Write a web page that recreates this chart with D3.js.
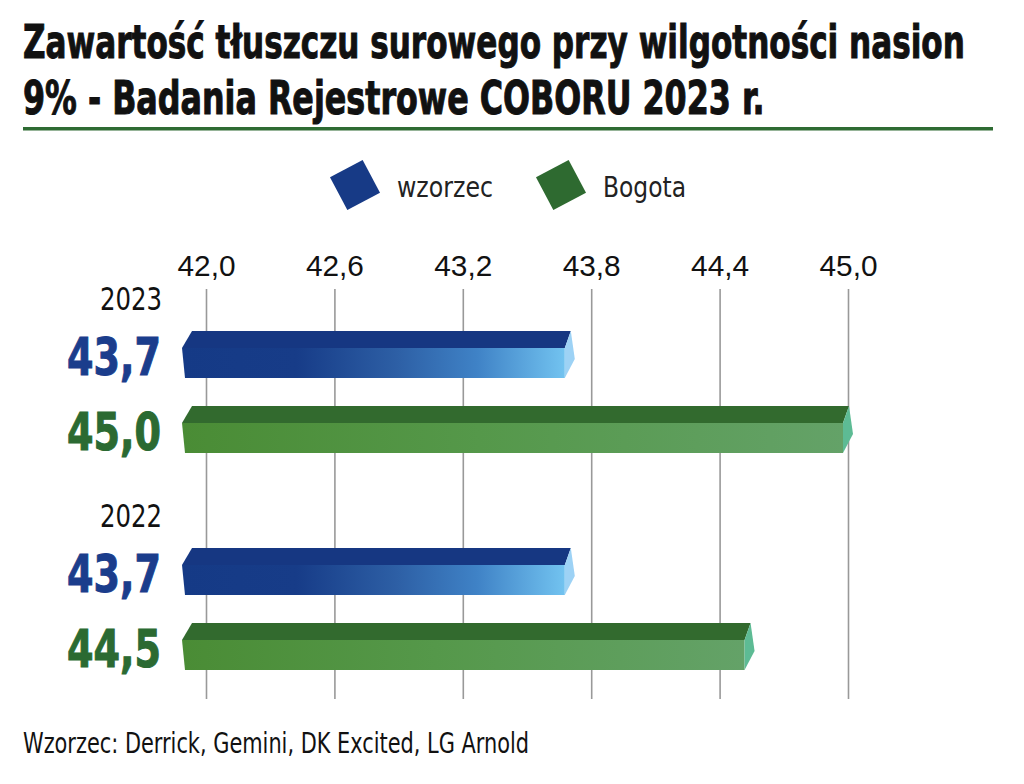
<!DOCTYPE html>
<html>
<head>
<meta charset="utf-8">
<script src="https://cdn.jsdelivr.net/npm/d3@7"></script>
<style>
  body { margin: 0; background: #fff; }
  .narrow { font-family: "Liberation Sans Narrow", "DejaVu Sans Condensed", "Roboto", sans-serif; }
</style>
</head>
<body>
<div id="chart"></div>
<script>
const titleLines = [
  'Zawartość tłuszczu surowego przy wilgotności nasion',
  '9% - Badania Rejestrowe COBORU 2023 r.',
];
const years = ['2023', '2022'];
const seriesNames = ['wzorzec', 'Bogota'];
const values2023 = [43.7, 45.0];
const values2022 = [43.7, 44.54];
const tickValues = [42.0, 42.6, 43.2, 43.8, 44.4, 45.0];
const footnote = 'Wzorzec: Derrick, Gemini, DK Excited, LG Arnold';

const colors = {
  wzorzec: { label: '#1b3d8c', top: '#163782', side: '#9dd2f5', legend: '#173a86',
    front: [[0, '#153a86'], [0.3, '#173c88'], [0.56, '#2d5fa5'], [0.77, '#3f82c6'], [1, '#72c3f0']] },
  Bogota: { label: '#2b6a32', top: '#326a2e', side: '#5dbb94', legend: '#2e6a30',
    front: [[0, '#4a8c35'], [0.45, '#55984a'], [1, '#64a268']] },
};

const data = [];
years.forEach((year, i) => {
  const vals = i === 0 ? values2023 : values2022;
  seriesNames.forEach((name, j) => data.push({ year, name, value: vals[j] }));
});

const width = 1024;
const height = 784;

const svg = d3.select('#chart')
  .append('svg')
  .attr('width', width)
  .attr('height', height)
  .attr('class', 'narrow');

const defs = svg.append('defs');
seriesNames.forEach((name) => {
  const g = defs.append('linearGradient')
    .attr('id', `front-${name}`)
    .attr('x1', 0).attr('x2', 1).attr('y1', 0).attr('y2', 0);
  g.selectAll('stop')
    .data(colors[name].front)
    .enter()
    .append('stop')
    .attr('offset', d => d[0])
    .attr('stop-color', d => d[1]);
});

// title, squeezed horizontally to the reference width
const titleWidths = [942, 742];
svg.append('g')
  .selectAll('text')
  .data(titleLines)
  .enter()
  .append('text')
  .attr('font-size', 47)
  .attr('font-weight', 'bold')
  .attr('fill', '#111')
  .attr('stroke', '#111')
  .attr('stroke-width', 1)
  .text(d => d)
  .each(function (d, i) {
    const len = this.getComputedTextLength();
    d3.select(this)
      .attr('transform', `translate(23, ${58 + i * 56}) scale(${titleWidths[i] / len}, 1)`);
  });

svg.append('rect')
  .attr('x', 23)
  .attr('y', 127)
  .attr('width', 970)
  .attr('height', 3.5)
  .attr('fill', '#2e6b33');

// legend
const legendX = d3.scaleOrdinal().domain(seriesNames).range([355, 561]);
const legend = svg.append('g')
  .selectAll('g')
  .data(seriesNames)
  .enter()
  .append('g')
  .attr('transform', d => `translate(${legendX(d)}, 185)`);

legend.append('rect')
  .attr('x', -18.5)
  .attr('y', -18.5)
  .attr('width', 37)
  .attr('height', 37)
  .attr('transform', 'rotate(-28)')
  .attr('fill', d => colors[d].legend);

legend.append('text')
  .attr('x', 42)
  .attr('y', 12)
  .attr('font-size', 29)
  .attr('fill', '#222')
  .attr('textLength', d => (d === 'wzorzec' ? 96 : 83))
  .attr('lengthAdjust', 'spacingAndGlyphs')
  .text(d => d);

// scales
const x = d3.scaleLinear()
  .domain([42, 45])
  .range([206, 848]);

const y = d3.scaleBand()
  .domain(years)
  .range([331, 331 + 2 * 217])
  .paddingInner(0)
  .paddingOuter(0);

const ySub = d3.scaleBand()
  .domain(seriesNames)
  .range([0, 122])
  .paddingInner(0.373)
  .paddingOuter(0);

// axis + grid
const axis = svg.append('g')
  .attr('transform', 'translate(0, 289)')
  .call(d3.axisTop(x)
    .tickValues(tickValues)
    .tickSize(-410)
    .tickPadding(13)
    .tickFormat(d => d3.format('.1f')(d).replace('.', ',')));

axis.select('.domain').remove();
axis.selectAll('.tick line')
  .attr('stroke', '#999')
  .attr('stroke-width', 1.6);
axis.selectAll('.tick text')
  .attr('fill', '#111')
  .attr('font-size', 29)
  .attr('font-family', null)
  .attr('textLength', 58)
  .attr('lengthAdjust', 'spacingAndGlyphs');

// year labels
svg.append('g')
  .selectAll('text')
  .data(years)
  .enter()
  .append('text')
  .attr('x', 162)
  .attr('y', d => y(d) - 21)
  .attr('text-anchor', 'end')
  .attr('font-size', 32)
  .attr('fill', '#111')
  .attr('textLength', 62)
  .attr('lengthAdjust', 'spacingAndGlyphs')
  .text(d => d);

// bars
const topH = 17;
const barH = ySub.bandwidth();
const leftX = x(42) - 24;

const bar = svg.append('g')
  .selectAll('g')
  .data(data)
  .enter()
  .append('g')
  .attr('transform', d => `translate(0, ${y(d.year) + ySub(d.name)})`);

const pts = p => p.map(q => q.join(',')).join(' ');

bar.append('polygon')
  .attr('fill', d => `url(#front-${d.name})`)
  .attr('points', (d) => {
    const xr = x(d.value) + 1;
    return pts([[leftX, topH], [xr - 6, topH], [xr - 6, barH], [leftX + 3, barH]]);
  });

bar.append('polygon')
  .attr('fill', d => colors[d.name].top)
  .attr('points', (d) => {
    const xr = x(d.value) + 1;
    return pts([[leftX + 10, 0], [xr, 0], [xr - 6, topH], [leftX, topH]]);
  });

bar.append('polygon')
  .attr('fill', d => colors[d.name].side)
  .attr('points', (d) => {
    const xr = x(d.value) + 1;
    return pts([[xr, 0], [xr + 4, 28], [xr - 6, barH], [xr - 6, topH]]);
  });

// value labels
bar.append('text')
  .attr('x', 161)
  .attr('y', 44)
  .attr('text-anchor', 'end')
  .attr('font-size', 51)
  .attr('font-weight', 'bold')
  .attr('fill', d => colors[d.name].label)
  .attr('stroke', d => colors[d.name].label)
  .attr('stroke-width', 1)
  .attr('textLength', 94)
  .attr('lengthAdjust', 'spacingAndGlyphs')
  .text(d => d3.format('.1f')(d.value).replace('.', ','));

// footnote
svg.append('text')
  .attr('x', 23)
  .attr('y', 753)
  .attr('font-size', 28)
  .attr('fill', '#111')
  .attr('textLength', 506)
  .attr('lengthAdjust', 'spacingAndGlyphs')
  .text(footnote);
</script>
</body>
</html>
